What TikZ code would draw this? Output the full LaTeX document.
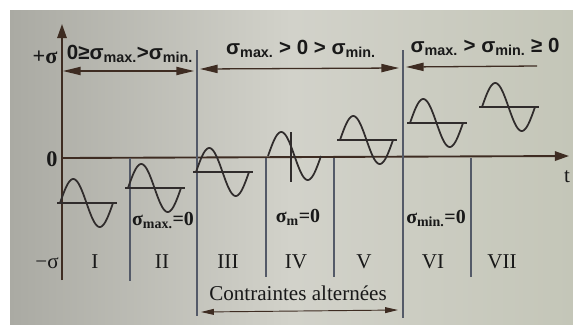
\documentclass[tikz,border=0pt]{standalone}
\usepackage{fontspec}
\setmainfont{Liberation Serif}
\newfontfamily\headfont{Liberation Sans}
\usetikzlibrary{arrows.meta}

\definecolor{ink}{RGB}{62,44,34}
\definecolor{divline}{RGB}{84,90,104}
\definecolor{wave}{RGB}{48,44,44}
\definecolor{photoL}{RGB}{170,170,163}
\definecolor{photoM}{RGB}{210,210,202}
\definecolor{photoR}{RGB}{196,198,184}

\begin{document}
\begin{tikzpicture}[x=0.03cm,y=-0.03cm,
    axis/.style={ink, line width=1.6pt, arrows={-Triangle[length=12pt,width=8pt]}},
    divider/.style={divline, line width=0.9pt},
    span/.style={ink, line width=1.1pt, arrows={Triangle[length=15pt,width=7pt]-Triangle[length=15pt,width=7pt]}},
    head/.style={inner sep=0pt, anchor=base, text=black!90, font=\headfont\bfseries\fontsize{17.5}{19}\selectfont},
    lab/.style={inner sep=0pt, anchor=base, text=black!90, font=\bfseries\fontsize{17}{19}\selectfont},
    zone/.style={inner sep=0pt, anchor=base, text=black!90, font=\fontsize{18}{20}\selectfont},
    sine/.style={wave, line width=1.5pt}]

    % photo background
        \useasboundingbox (0,0) rectangle (573,324);
        \shade[left color=photoL, right color=photoR, middle color=photoM] (10,10) rectangle (573,324);

    % axes
        \coordinate (O) at (62,158);
        \coordinate (Ybot) at (62,280);
        \coordinate (Ytop) at (62,24);
        \coordinate (Tend) at (569,156);
        \draw[axis] (Ybot) -- (Ytop);
        \draw[axis] (O) -- (Tend);
        \node[lab, font=\bfseries\fontsize{19}{21}\selectfont] (plus) at (45,63) {+σ};
        \node[lab, font=\bfseries\fontsize{19}{21}\selectfont] (zero) at (52,166) {0};
        \node[zone] (minus) at (47,268) {−σ};
        \node[zone] (t) at (567,182) {t};

    % zone borders
        \coordinate (b2a) at (130,158); \coordinate (b2b) at (130,281);
        \coordinate (b3a) at (197,50);  \coordinate (b3b) at (197,316);
        \coordinate (b4a) at (266,158); \coordinate (b4b) at (266,277);
        \coordinate (b5a) at (334,158); \coordinate (b5b) at (334,277);
        \coordinate (b6a) at (403,50);  \coordinate (b6b) at (403,318);
        \coordinate (b7a) at (471,158); \coordinate (b7b) at (471,277);
        \foreach \b in {2,...,7}
            \draw[divider] (b\b a) -- (b\b b);

    % upper ranges
        \coordinate (r1a) at (63,71);  \coordinate (r1b) at (194,71);
        \coordinate (r2a) at (200,69); \coordinate (r2b) at (399,68);
        \coordinate (r3a) at (406,67); \coordinate (r3b) at (537,66);
        \draw[span] (r1a) -- (r1b);
        \draw[span] (r2a) -- (r2b);
        \draw[span, arrows={Triangle[length=15pt,width=7pt]-}] (r3a) -- (r3b);
        \node[head] (h1) at (130,59) {0≥σ\textsubscript{max.}>σ\textsubscript{min.}};
        \node[head] (h2) at (301,54) {σ\textsubscript{max.} > 0 > σ\textsubscript{min.}};
        \node[head] (h3) at (485,52) {σ\textsubscript{max.} > σ\textsubscript{min.} ≥ 0};

    % one period per zone, mean line through it
        \foreach \xs/\ym in {60/203, 128/188, 196/172, 268/156, 340/140, 410/123, 482/107}{
            \draw[sine] plot[variable=\t, domain=0:360, samples=61, smooth] ({\xs+\t/360*53}, {\ym-24*sin(\t)});
        }
        \foreach \xs/\ym in {57/203, 125/188, 193/172, 337/140, 407/123, 479/107}
            \draw[sine] (\xs,\ym) -- (\xs+60,\ym);
        \draw[sine] (291,132) -- (291,182);

    % special cases
        \node[lab] (c2) at (163,225) {σ\textsubscript{max.}=0};
        \node[lab] (c4) at (298,222) {σ\textsubscript{m}=0};
        \node[lab] (c6) at (436,223) {σ\textsubscript{min.}=0};

    % zone numbers
        \node[zone] (z1) at (95,268) {I};
        \node[zone] (z2) at (162,268) {II};
        \node[zone] (z3) at (228,268) {III};
        \node[zone] (z4) at (296,268) {IV};
        \node[zone] (z5) at (364,268) {V};
        \node[zone] (z6) at (433,268) {VI};
        \node[zone] (z7) at (502,268) {VII};

    % alternating range
        \coordinate (alta) at (201,312);
        \coordinate (altb) at (398,310);
        \draw[span, arrows={Triangle[length=11pt,width=5pt]-Triangle[length=11pt,width=5pt]}, line width=0.8pt] (alta) -- (altb);
        \node[zone] (alt) at (298,300) {Contraintes alternées};

\end{tikzpicture}
\end{document}
